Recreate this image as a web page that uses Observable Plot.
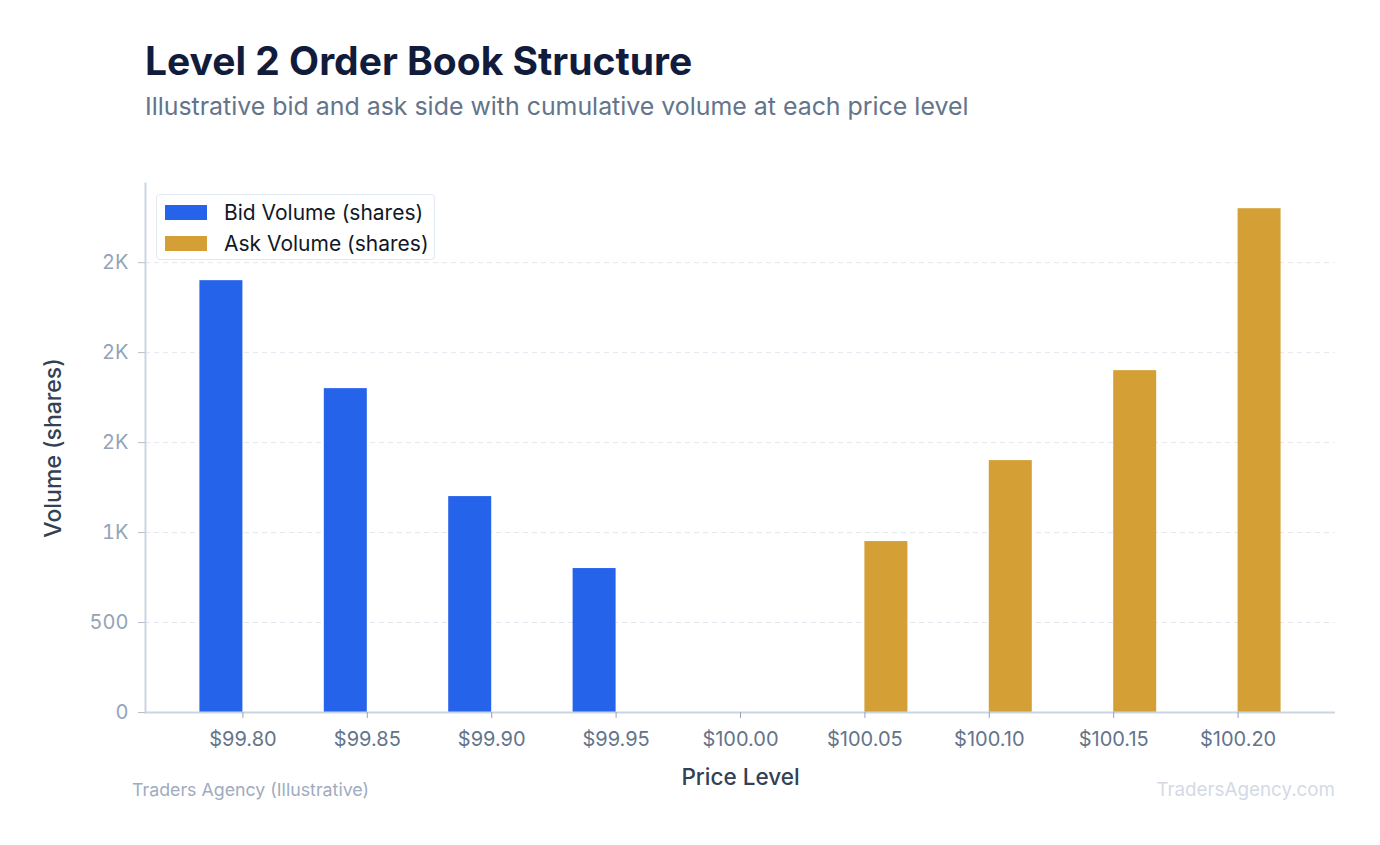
<!DOCTYPE html>
<html>
<head>
<meta charset="utf-8">
<script src="https://cdn.jsdelivr.net/npm/d3@7"></script>
<script src="https://cdn.jsdelivr.net/npm/@observablehq/plot@0.6"></script>
<style>
  html, body { margin: 0; padding: 0; background: #ffffff; }
  body { font-family: Inter, "Noto Sans", sans-serif; }
  #page { position: relative; width: 1380px; height: 845px; overflow: hidden; }
  #header { position: relative; height: 150px; }
  #title { position: absolute; left: 145px; top: 37px; font-size: 39px; font-weight: 650; color: #111c3d; line-height: 48px; white-space: nowrap; }
  #subtitle { position: absolute; left: 145px; top: 90px; font-size: 24.9px; color: #64748b; line-height: 32px; white-space: nowrap; }
  #legend { position: absolute; left: 156px; top: 194px; width: 277px; height: 64px; border: 1.5px solid #e2e8f0; border-radius: 4px; background: #fff; }
  .item { position: absolute; left: 8px; height: 22px; display: flex; align-items: center; font-size: 21px; color: #111827; white-space: nowrap; }
  .sw { width: 42px; height: 15px; margin-right: 17px; }
  #foot-left { position: absolute; left: 132px; top: 778px; font-size: 17.8px; color: #a0abc0; white-space: nowrap; line-height: 24px; }
  #foot-right { position: absolute; right: 45px; top: 778px; font-size: 18.8px; color: #d3dae6; white-space: nowrap; line-height: 24px; }
</style>
</head>
<body>
<div id="page">
  <div id="header">
    <div id="title">Level 2 Order Book Structure</div>
    <div id="subtitle">Illustrative bid and ask side with cumulative volume at each price level</div>
  </div>
  <div id="chart"></div>
  <div id="legend"></div>
  <div id="foot-left">Traders Agency (Illustrative)</div>
  <div id="foot-right">TradersAgency.com</div>
</div>
<script>
const prices = ["$99.80", "$99.85", "$99.90", "$99.95", "$100.00", "$100.05", "$100.10", "$100.15", "$100.20"];
const bidVolume = [2400, 1800, 1200, 800, null, null, null, null, null];
const askVolume = [null, null, null, null, null, 950, 1400, 1900, 2800];
const yTicks = [0, 500, 1000, 1500, 2000, 2500];
const yTickLabels = ["0", "500", "1K", "2K", "2K", "2K"];
const seriesNames = ["Bid Volume (shares)", "Ask Volume (shares)"];
const seriesColors = ["#2563eb", "#d4a036"];
const xLabel = "Price Level";
const yLabel = "Volume (shares)";

const bids = prices.map((p, i) => ({price: p, volume: bidVolume[i]})).filter(d => d.volume != null);
const asks = prices.map((p, i) => ({price: p, volume: askVolume[i]})).filter(d => d.volume != null);

const chart = Plot.plot({
  width: 1380,
  height: 660,
  marginLeft: 145,
  marginRight: 45,
  marginTop: 33,
  marginBottom: 98,
  style: {fontFamily: "Inter, sans-serif", background: "transparent", overflow: "visible"},
  x: {domain: prices, paddingInner: 0.3087, paddingOuter: 0.4374, round: false},
  y: {domain: [0, 2940]},
  marks: [
    Plot.gridY(yTicks, {stroke: "#e2e8f0", strokeOpacity: 1, strokeDasharray: "5,4"}),
    Plot.barY(bids, {x: "price", y: "volume", fill: seriesColors[0], insetRight: 43}),
    Plot.barY(asks, {x: "price", y: "volume", fill: seriesColors[1], insetLeft: 43}),
    Plot.ruleY([0], {stroke: "#cbd5e1", strokeWidth: 2}),
    Plot.frame({anchor: "left", stroke: "#cbd5e1", strokeWidth: 2}),
    Plot.axisY({ticks: yTicks, tickFormat: d => yTickLabels[yTicks.indexOf(d)], tickSize: 7, tickPadding: 10,
      stroke: "#b6bfcc", fill: "#94a3b8", fontSize: 20, label: null}),
    Plot.axisX({tickSize: 6, tickPadding: 13, stroke: "#94a3b8", fill: "#64748b", fontSize: 20, label: null}),
    Plot.text([yLabel], {frameAnchor: "left", dx: -92, rotate: -90, textAnchor: "middle", lineAnchor: "middle",
      fill: "#334155", fontSize: 23, fontWeight: 500}),
    Plot.text([xLabel], {frameAnchor: "bottom", dy: 65, textAnchor: "middle", lineAnchor: "middle",
      fill: "#334155", fontSize: 22.5, fontWeight: 500})
  ]
});
document.getElementById("chart").appendChild(chart);

const legend = document.getElementById("legend");
seriesNames.forEach((name, i) => {
  const item = document.createElement("div");
  item.className = "item";
  item.style.top = (6 + i * 31) + "px";
  const sw = document.createElement("span");
  sw.className = "sw";
  sw.style.background = seriesColors[i];
  const label = document.createElement("span");
  label.textContent = name;
  item.appendChild(sw);
  item.appendChild(label);
  legend.appendChild(item);
});
</script>
</body>
</html>
